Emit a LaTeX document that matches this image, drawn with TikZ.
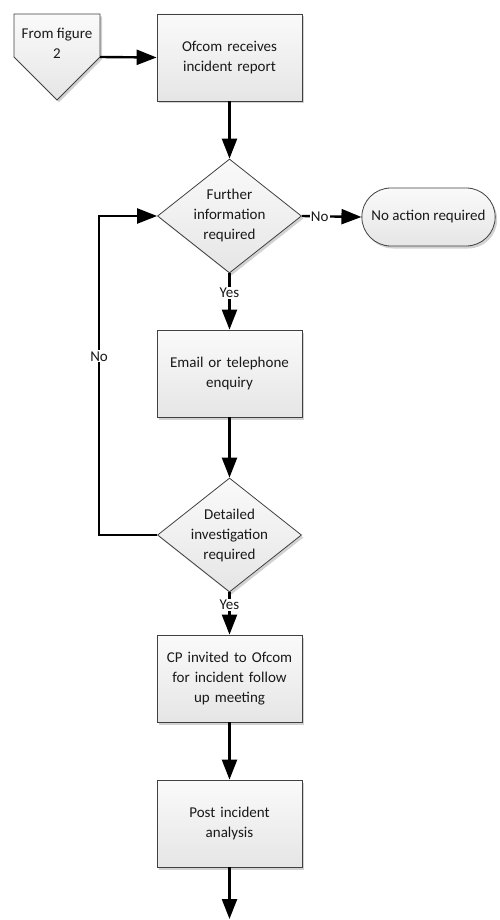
\documentclass[tikz,border=0pt]{standalone}
\usepackage{fontspec}
\setmainfont{Carlito}
\usetikzlibrary{arrows.meta,shapes.geometric,shapes.misc,shadows}
\definecolor{edgegray}{RGB}{64,64,64}
\definecolor{txt}{RGB}{25,25,25}
\begin{document}
\begin{tikzpicture}[x=1pt,y=-1pt,
  font=\fontsize{15}{20}\selectfont,text=txt,
  shapefill/.style={draw=edgegray,line width=0.8pt,top color=black!2,bottom color=black!10,
    drop shadow={shadow xshift=2pt,shadow yshift=-2.5pt,fill=black!25,opacity=0.7}},
  procbox/.style={shapefill,rectangle,minimum width=145pt,minimum height=87pt,align=center,inner sep=2pt,text width=140pt},
  decision/.style={shapefill,diamond,aspect=1.263,minimum width=144pt,minimum height=114pt,inner sep=0pt,align=center},
  terminal/.style={shapefill,rounded rectangle,minimum width=140pt,minimum height=58pt,align=center},
  flow/.style={line width=2.4pt,-{Triangle[length=20pt,width=15pt]}},
  lbl/.style={fill=white,inner sep=1.2pt}
]
\useasboundingbox (0,0) rectangle (500,920);

% off-page connector
\draw[shapefill] (14,14) -- (100,14) -- (100,57) -- (57,100) -- (14,57) -- cycle;
\node[align=center] (fig2) at (57,43) {From figure\\2};
\coordinate (fig2r) at (100,57);

\node[procbox] (recv) at (229.5,57.5) {Ofcom receives\\incident report};
\node[decision] (d1) at (229.5,216) {Further\\information\\required};
\node[terminal] (noact) at (428.5,217) {No action required};
\node[procbox] (enq) at (229.5,373.5) {Email or telephone\\enquiry};
\node[decision] (d2) at (229.5,535) {Detailed\\investigation\\required};
\node[procbox] (cp) at (229.5,678.5) {CP invited to Ofcom\\for incident follow\\up meeting};
\node[procbox] (post) at (229.5,823.5) {Post incident\\analysis};
\coordinate (endpt) at (229.5,919);

\draw[flow] (fig2r) -- (recv.west);
\draw[flow] (recv.south) -- (d1.north);
\draw[flow] (d1.east) -- node[lbl,pos=0.3] {No} (noact.west);
\draw[flow] (d1.south) -- node[lbl,pos=0.35] {Yes} (enq.north);
\draw[flow] (enq.south) -- (d2.north);
\draw[flow] (d2.west) -- ++(-58,0) |- node[lbl,pos=0.28] {No} (d1.west);
\draw[flow] (d2.south) -- node[lbl,pos=0.3] {Yes} (cp.north);
\draw[flow] (cp.south) -- (post.north);
\draw[flow] (post.south) -- (endpt);
\end{tikzpicture}
\end{document}
